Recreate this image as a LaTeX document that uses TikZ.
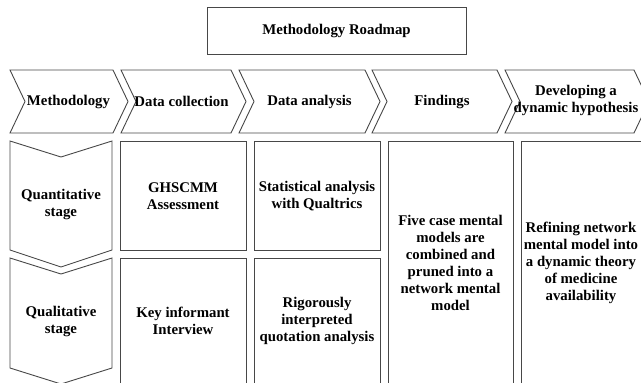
\documentclass[tikz,border=0pt]{standalone}
\usepackage{fontspec}
\setmainfont{Liberation Serif}
\begin{document}
\begin{tikzpicture}[x=1pt,y=-1pt,
  shapeline/.style={draw=black!72,line width=0.9pt,line join=miter,fill=white},
  lbl/.style={align=center,inner sep=0pt,font=\bfseries\fontsize{14.8}{17}\selectfont}]
\useasboundingbox (0,0) rectangle (641,383);
\begin{scope}
\clip (0,0) rectangle (641,383);
% title
\draw[shapeline] (207,7) rectangle (466,54);
% horizontal chevrons
\draw[shapeline] (10,70)--(113,70)--(128,101.5)--(113,133)--(10,133)--(25,101.5)--cycle;
\draw[shapeline] (121,70)--(231,70)--(246,101.5)--(231,133)--(121,133)--(136,101.5)--cycle;
\draw[shapeline] (239,70)--(365,70)--(380,101.5)--(365,133)--(239,133)--(254,101.5)--cycle;
\draw[shapeline] (372,70)--(497,70)--(512,101.5)--(497,133)--(372,133)--(387,101.5)--cycle;
\draw[shapeline] (505,70)--(634,70)--(649,101.5)--(634,133)--(505,133)--(520,101.5)--cycle;
% down chevrons
\draw[shapeline] (10,141)--(61,157)--(112,141)--(112,250)--(61,267)--(10,250)--cycle;
\draw[shapeline] (10,258)--(61,274)--(112,258)--(112,368)--(61,384)--(10,368)--cycle;
% boxes
\draw[shapeline] (120,141) rectangle (246,250);
\draw[shapeline] (254,141) rectangle (380,250);
\draw[shapeline] (120,258) rectangle (246,400);
\draw[shapeline] (254,258) rectangle (380,400);
\draw[shapeline] (388,141) rectangle (513,400);
\draw[shapeline] (521,141) rectangle (650,400);
\end{scope}
% texts
\node[lbl] (title) at (336.5,31) {Methodology Roadmap};
\node[lbl] (h1) at (68.5,101.5) {Methodology};
\node[lbl] (h2) at (181.5,101.5) {Data collection};
\node[lbl] (h3) at (309.5,101.5) {Data analysis};
\node[lbl] (h4) at (442,101.5) {Findings};
\node[lbl] (h5) at (576,100) {Developing a\\dynamic hypothesis};
\node[lbl] (s1) at (61,204) {Quantitative\\stage};
\node[lbl] (s2) at (61,321) {Qualitative\\stage};
\node[lbl] (b1) at (183,196) {GHSCMM\\Assessment};
\node[lbl] (b2) at (317,196) {Statistical analysis\\with Qualtrics};
\node[lbl] (b3) at (183,321) {Key informant\\Interview};
\node[lbl] (b4) at (317,321) {Rigorously\\interpreted\\quotation analysis};
\node[lbl] (b5) at (450.5,262.5) {Five case mental\\models are\\combined and\\pruned into a\\network mental\\model};
\node[lbl] (b6) at (581,262.5) {Refining network\\mental model into\\a dynamic theory\\of medicine\\availability};
\end{tikzpicture}
\end{document}
